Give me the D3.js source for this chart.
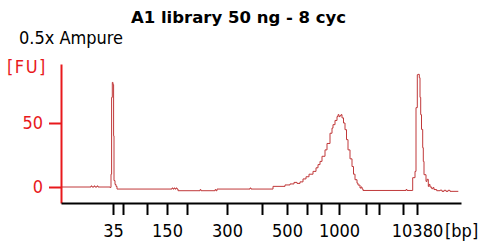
<!DOCTYPE html>
<html>
<head>
<meta charset="utf-8">
<script src="https://cdn.jsdelivr.net/npm/d3@7"></script>
<style>
	html, body { margin: 0; padding: 0; background: #fff; }
	svg { display: block; }
	.cond { font-family: "DejaVu Sans Condensed", "DejaVu Sans", sans-serif; font-stretch: condensed; }
</style>
</head>
<body>
<svg id="chart" width="479" height="243"></svg>
<script>
// ladder (bp) and where each one migrates (s)
const ladder_bp = [35, 50, 100, 150, 200, 300, 400, 500, 600, 700, 1000, 2000, 3000, 7000, 10380]
const ladder_time = [50.4, 52.4, 57.2, 61.2, 65.2, 73.2, 80.2, 85.2, 89.2, 92.0, 95.6, 101.0, 103.6, 108.4, 111.2]
const labeled_bp = [35, 150, 300, 500, 1000, 10380]
const fu_ticks = [0, 50]

// electropherogram trace, time (s) vs fluorescence (FU)
const trace_time = [
	40.0, 45.4, 46.0, 46.2, 46.6, 46.8, 47.2, 47.4, 49.8, 50.0,
	50.12, 50.26, 50.4, 50.52, 50.6, 50.8, 51.0, 51.2, 62.2, 62.4,
	62.6, 62.8, 63.0, 63.2, 63.4, 67.8, 68.0, 70.8, 71.0, 71.2,
	77.8, 78.0, 82.4, 84.8, 85.8, 86.6, 87.2, 87.8, 88.4, 89.0,
	89.6, 90.4, 91.0, 91.4, 91.8, 92.2, 92.8, 93.2, 93.8, 94.2,
	94.4, 94.8, 95.2, 95.4, 95.6, 95.8, 96.0, 96.2, 96.5, 96.8,
	97.1, 97.4, 97.8, 98.2, 98.5, 98.8, 99.2, 99.4, 99.8, 100.0,
	100.2, 100.4, 109.0, 109.2, 110.0, 110.34, 110.8, 111.0, 111.26, 111.4,
	111.66, 111.8, 111.94, 112.1, 112.34, 112.46, 112.6, 113.0, 113.2, 113.46,
	113.6, 113.8, 114.14, 114.4, 114.6, 115.14, 115.8, 116.2, 116.6, 117.0,
	117.4, 117.8, 119.46
]
const trace_fu = [
	0, 0, 0.8, 0, 0.8, 0, 0.8, 0, -0.3, 10,
	70, 81.7, 80, 40, 5, 2, 0.5, -1.6, -0.8, -1.6,
	-0.8, -1.6, -0.8, -1.6, -2.9, -2.1, -2.9, -2.1, -2.9, -1.6,
	-0.8, -1.6, 0.5, 1.6, 2.4, 3.6, 2.8, 4, 6.3, 8,
	10, 12.2, 15, 17.5, 20, 24, 29, 34, 42, 46,
	48.7, 52, 55, 56.5, 55, 55.7, 56.5, 54, 50, 44.8,
	37, 29, 22, 16, 10, 5.7, 3, 1.5, -0.8, 0,
	-1.5, -2.7, -2, -2.7, -2.7, 7.3, 12.2, 62, 87.7, 88,
	85.4, 70, 56.5, 45, 30.7, 20, 9.6, 4.4, 6, 0.5,
	2, 0, -1.3, -0.5, -2, -2.9, -2.5, -3.4, -2.6, -3.4,
	-2.6, -3.4, -3.4
]

const svg = d3.select('#chart')

const x = d3.scaleLinear().domain([40, 120]).range([61, 461])
const y = d3.scaleLinear().domain([-12.5, 96.1]).range([203, 64])

// title + sample note
svg.append('text')
	.attr('x', 238.5).attr('y', 22.7)
	.attr('text-anchor', 'middle')
	.style('font-family', '"DejaVu Sans", sans-serif')
	.style('font-weight', 'bold')
	.style('font-size', '16.5px')
	.text('A1 library 50 ng - 8 cyc')

svg.append('text')
	.attr('class', 'cond')
	.attr('x', 19).attr('y', 44)
	.style('font-size', '18px')
	.text('0.5x Ampure')

svg.append('text')
	.attr('class', 'cond')
	.attr('x', 7).attr('y', 73)
	.attr('fill', '#e8191c')
	.style('font-size', '18px')
	.style('letter-spacing', '1.5px')
	.text('[FU]')

// trace
const line = d3.line()
	.x((d, i) => x(trace_time[i]))
	.y(d => y(d))
	.curve(d3.curveStepAfter)

svg.append('path')
	.datum(trace_fu)
	.attr('fill', 'none')
	.attr('stroke', '#c0393a')
	.attr('stroke-width', 1)
	.attr('d', line)

// y axis (red)
const yAxis = svg.append('g')
	.attr('transform', 'translate(61,0)')
	.call(d3.axisLeft(y).tickValues(fu_ticks).tickSize(12).tickSizeOuter(0).tickPadding(6))
yAxis.select('.domain').attr('stroke', '#e8191c').attr('stroke-width', 2)
yAxis.selectAll('.tick line').attr('stroke', '#e8191c').attr('stroke-width', 2)
yAxis.selectAll('.tick text')
	.attr('class', 'cond')
	.attr('fill', '#e8191c')
	.style('font-size', '18px')
yAxis.attr('font-family', null).attr('font-size', null)

// x axis (black), ticks at ladder peaks
const xAxis = svg.append('g')
	.attr('transform', 'translate(0,203)')
	.call(d3.axisBottom(x)
		.tickValues(ladder_time)
		.tickSize(12).tickSizeOuter(0).tickPadding(9)
		.tickFormat((t, i) => labeled_bp.includes(ladder_bp[i]) ? ladder_bp[i] : ''))
xAxis.select('.domain').attr('stroke', '#000').attr('stroke-width', 2)
xAxis.selectAll('.tick line').attr('stroke', '#000').attr('stroke-width', 2)
xAxis.selectAll('.tick text')
	.attr('class', 'cond')
	.attr('fill', '#000')
	.style('font-size', '18px')
xAxis.attr('font-family', null).attr('font-size', null)

svg.append('text')
	.attr('class', 'cond')
	.attr('x', 445).attr('y', 236.7)
	.style('font-size', '18px')
	.text('[bp]')
</script>
</body>
</html>
